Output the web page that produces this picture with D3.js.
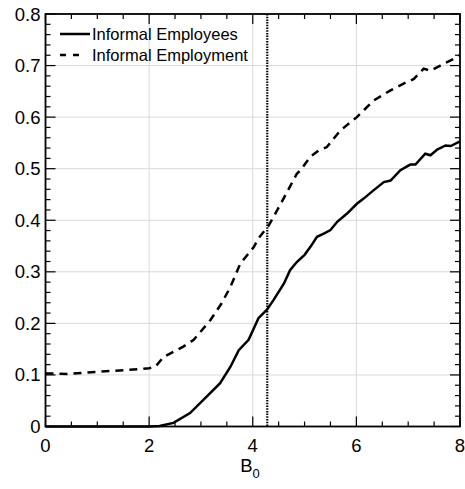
<!DOCTYPE html>
<html>
<head>
<meta charset="utf-8">
<script src="https://cdn.jsdelivr.net/npm/d3@7"></script>
<style>
  body{margin:0;background:#fff;}
  text{font-family:"Liberation Sans",Arial,Helvetica,sans-serif;}
</style>
</head>
<body>
<svg id="chart" width="465" height="489"></svg>
<script>
// informal employees (solid)
var empX=[0,1,2,2.2,2.47,2.79,3.11,3.37,3.57,3.73,3.92,4.11,4.27,4.40,4.60,4.72,4.85,5.0,5.11,5.24,5.37,5.50,5.63,5.82,6.01,6.14,6.33,6.53,6.66,6.85,7.04,7.14,7.33,7.43,7.56,7.72,7.82,8.0];
var empY=[0,0,0,0.001,0.007,0.026,0.058,0.084,0.116,0.148,0.168,0.210,0.226,0.245,0.277,0.303,0.319,0.333,0.348,0.368,0.374,0.381,0.397,0.413,0.432,0.442,0.458,0.474,0.477,0.497,0.508,0.508,0.529,0.526,0.537,0.545,0.544,0.553];
// informal employment (dashed)
var emplX=[0,0.42,1.0,1.5,2.0,2.12,2.28,2.66,2.86,3.18,3.40,3.57,3.76,4.02,4.11,4.31,4.53,4.85,4.92,5.11,5.27,5.43,5.69,6.01,6.33,6.66,6.91,7.11,7.30,7.43,7.62,7.82,7.95,8.0];
var emplY=[0.103,0.102,0.106,0.109,0.113,0.116,0.135,0.155,0.168,0.206,0.239,0.271,0.316,0.348,0.365,0.390,0.430,0.490,0.497,0.523,0.535,0.542,0.574,0.600,0.632,0.652,0.665,0.674,0.694,0.690,0.700,0.710,0.717,0.720];
var cutoff=4.28;
var xTicks=[0,2,4,6,8];
var yTicks=[0,0.1,0.2,0.3,0.4,0.5,0.6,0.7,0.8];
var legendNames=["Informal Employees","Informal Employment"];

var svg=d3.select("#chart");
var L=45.5,R=460,T=14,B=426.5;

var x=d3.scaleLinear().domain([0,8]).range([L,R]);
var y=d3.scaleLinear().domain([0,0.8]).range([B,T]);

// grid
svg.append("g").selectAll("line").data(xTicks.slice(1,-1)).enter().append("line")
  .attr("x1",function(d){return x(d);}).attr("x2",function(d){return x(d);})
  .attr("y1",T).attr("y2",B).attr("stroke","#d9d9d9").attr("stroke-width",1);
svg.append("g").selectAll("line").data(yTicks.slice(1,-1)).enter().append("line")
  .attr("y1",function(d){return y(d);}).attr("y2",function(d){return y(d);})
  .attr("x1",L).attr("x2",R).attr("stroke","#d9d9d9").attr("stroke-width",1);

// ticks on all sides
var xMinor=d3.range(0,8.01,0.5), yMinor=d3.range(0,0.801,0.02);
function tickX(g,pos,dir){
  g.selectAll(null).data(xMinor).enter().append("line")
    .attr("x1",function(d){return x(d);}).attr("x2",function(d){return x(d);})
    .attr("y1",pos).attr("y2",function(d){return pos+dir*(d%2==0?10:5);})
    .attr("stroke","#000").attr("stroke-width",1.2);
}
function tickY(g,pos,dir){
  g.selectAll(null).data(yMinor).enter().append("line")
    .attr("y1",function(d){return y(d);}).attr("y2",function(d){return y(d);})
    .attr("x1",pos).attr("x2",function(d){return pos+dir*(Math.abs(d*10-Math.round(d*10))<1e-6?10:5);})
    .attr("stroke","#000").attr("stroke-width",1.2);
}
var tk=svg.append("g");
tickX(tk,B,-1); tickX(tk,T,1); tickY(tk,L,1); tickY(tk,R,-1);

// lines
var line=d3.line().x(function(d){return x(d[0]);}).y(function(d){return y(d[1]);});
svg.append("path").datum(d3.zip(emplX,emplY)).attr("d",line)
  .attr("fill","none").attr("stroke","#000").attr("stroke-width",2.5).attr("stroke-dasharray","8,6");
svg.append("path").datum(d3.zip(empX,empY)).attr("d",line)
  .attr("fill","none").attr("stroke","#000").attr("stroke-width",2.5);
svg.append("line").attr("x1",x(cutoff)).attr("x2",x(cutoff)).attr("y1",T).attr("y2",B)
  .attr("stroke","#000").attr("stroke-width",2.2).attr("stroke-dasharray","1.5,1.2");

// frame
svg.append("rect").attr("x",L).attr("y",T).attr("width",R-L).attr("height",B-T)
  .attr("fill","none").attr("stroke","#000").attr("stroke-width",1.8);

// labels
svg.append("g").selectAll("text").data(xTicks).enter().append("text")
  .attr("x",function(d){return x(d);}).attr("y",B+25).attr("text-anchor","middle")
  .attr("font-size",18.5).text(function(d){return d;});
svg.append("g").selectAll("text").data(yTicks).enter().append("text")
  .attr("x",L-5).attr("y",function(d){return y(d)+6.5;}).attr("text-anchor","end")
  .attr("font-size",18.5).text(function(d){return d==0?"0":d3.format(".1f")(d);});
var xl=svg.append("text").attr("x",250).attr("y",472).attr("text-anchor","middle").attr("font-size",18.5);
xl.append("tspan").text("B");
xl.append("tspan").attr("font-size",13).attr("dy",6).text("0");

// legend
var lg=svg.append("g");
legendNames.forEach(function(n,i){
  var yy=34+i*21;
  lg.append("line").attr("x1",60).attr("x2",i==0?90:79).attr("y1",yy).attr("y2",yy)
    .attr("stroke","#000").attr("stroke-width",2.5).attr("stroke-dasharray",i==0?null:"6,7");
  lg.append("text").attr("x",92).attr("y",yy+6).attr("font-size",16.5).text(n);
});
</script>
</body>
</html>
